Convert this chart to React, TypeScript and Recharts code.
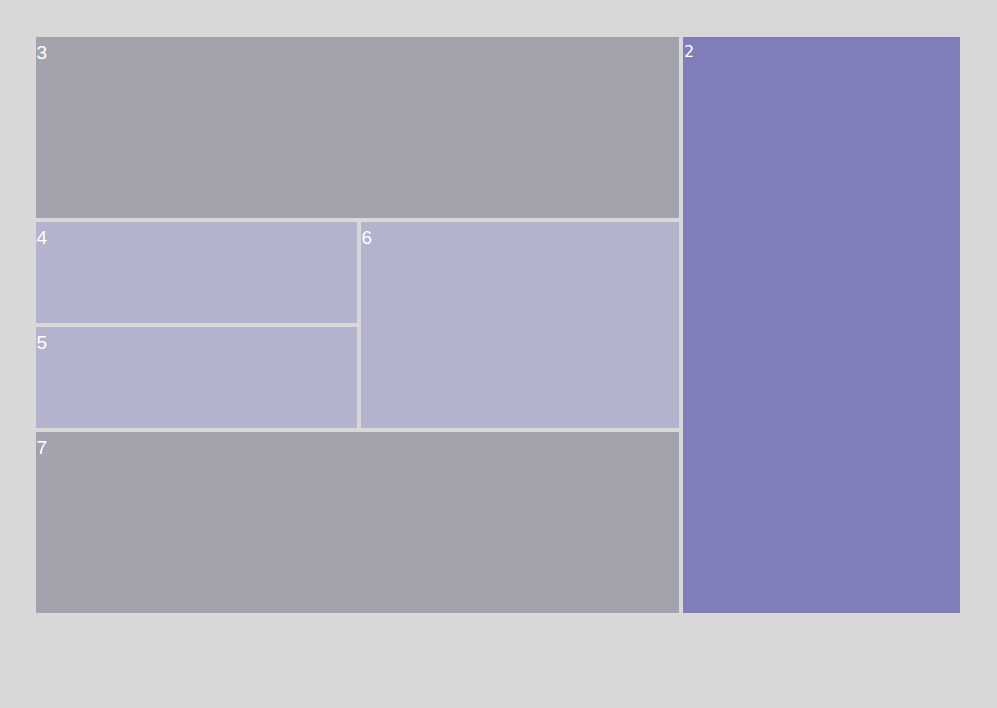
import React from "react";
import { Treemap } from "recharts";

const topNames = ["3", "G", "7", "2"];
const topValues = [14, 0, 14, 19];
const groupNames = ["4", "5", "6"];
const groupValues = [4, 4, 8];

const colorMap: Record<string, string> = {
  "2": "#7f7eb8",
  "3": "#a3a3ad",
  "7": "#a3a3ad",
  "4": "#b3b3cd",
  "5": "#b3b3cd",
  "6": "#b3b3cd",
};

const BG = "#d9d7d8";
const W = 924;
const H = 576;
const INSET = 2;

const data = topNames.map((name, i) =>
  name === "G"
    ? {
        name,
        children: groupNames.map((n, j) => ({ name: n, size: groupValues[j] })),
      }
    : { name, size: topValues[i] }
);

const Content = (props: any) => {
  const { x, y, width, height, name, children, depth } = props;
  if ((children && children.length) || depth === 0) return <g />;
  const l = x > 0.5 ? INSET : 0;
  const t = y > 0.5 ? INSET : 0;
  const r = x + width < W - 0.5 ? INSET : 0;
  const b = y + height < H - 0.5 ? INSET : 0;
  const small = name === "2";
  return (
    <g>
      <rect
        x={x + l}
        y={y + t}
        width={Math.max(0, width - l - r)}
        height={Math.max(0, height - t - b)}
        fill={colorMap[name] || "#a3a3ad"}
        stroke="none"
      />
      <text
        x={x + l + (small ? 1 : 0.5)}
        y={y + t + (small ? 20 : 22)}
        fill="#ffffff"
        stroke="none"
        fontSize={small ? 16 : 19}
        fontFamily={small ? "DejaVu Sans" : "Liberation Sans"}
        fontWeight={small ? 500 : 400}
      >
        {name}
      </text>
    </g>
  );
};

if (typeof document !== "undefined") {
  document.body.style.margin = "0";
  document.body.style.background = BG;
}

export default function App() {
  return (
    <div
      style={{
        width: 997,
        height: 708,
        background: BG,
        position: "relative",
        overflow: "hidden",
      }}
    >
      <div style={{ position: "absolute", left: 36, top: 37 }}>
        <Treemap
          width={W}
          height={H}
          data={data}
          dataKey="size"
          nameKey="name"
          aspectRatio={3}
          isAnimationActive={false}
          content={<Content />}
        />
      </div>
    </div>
  );
}
